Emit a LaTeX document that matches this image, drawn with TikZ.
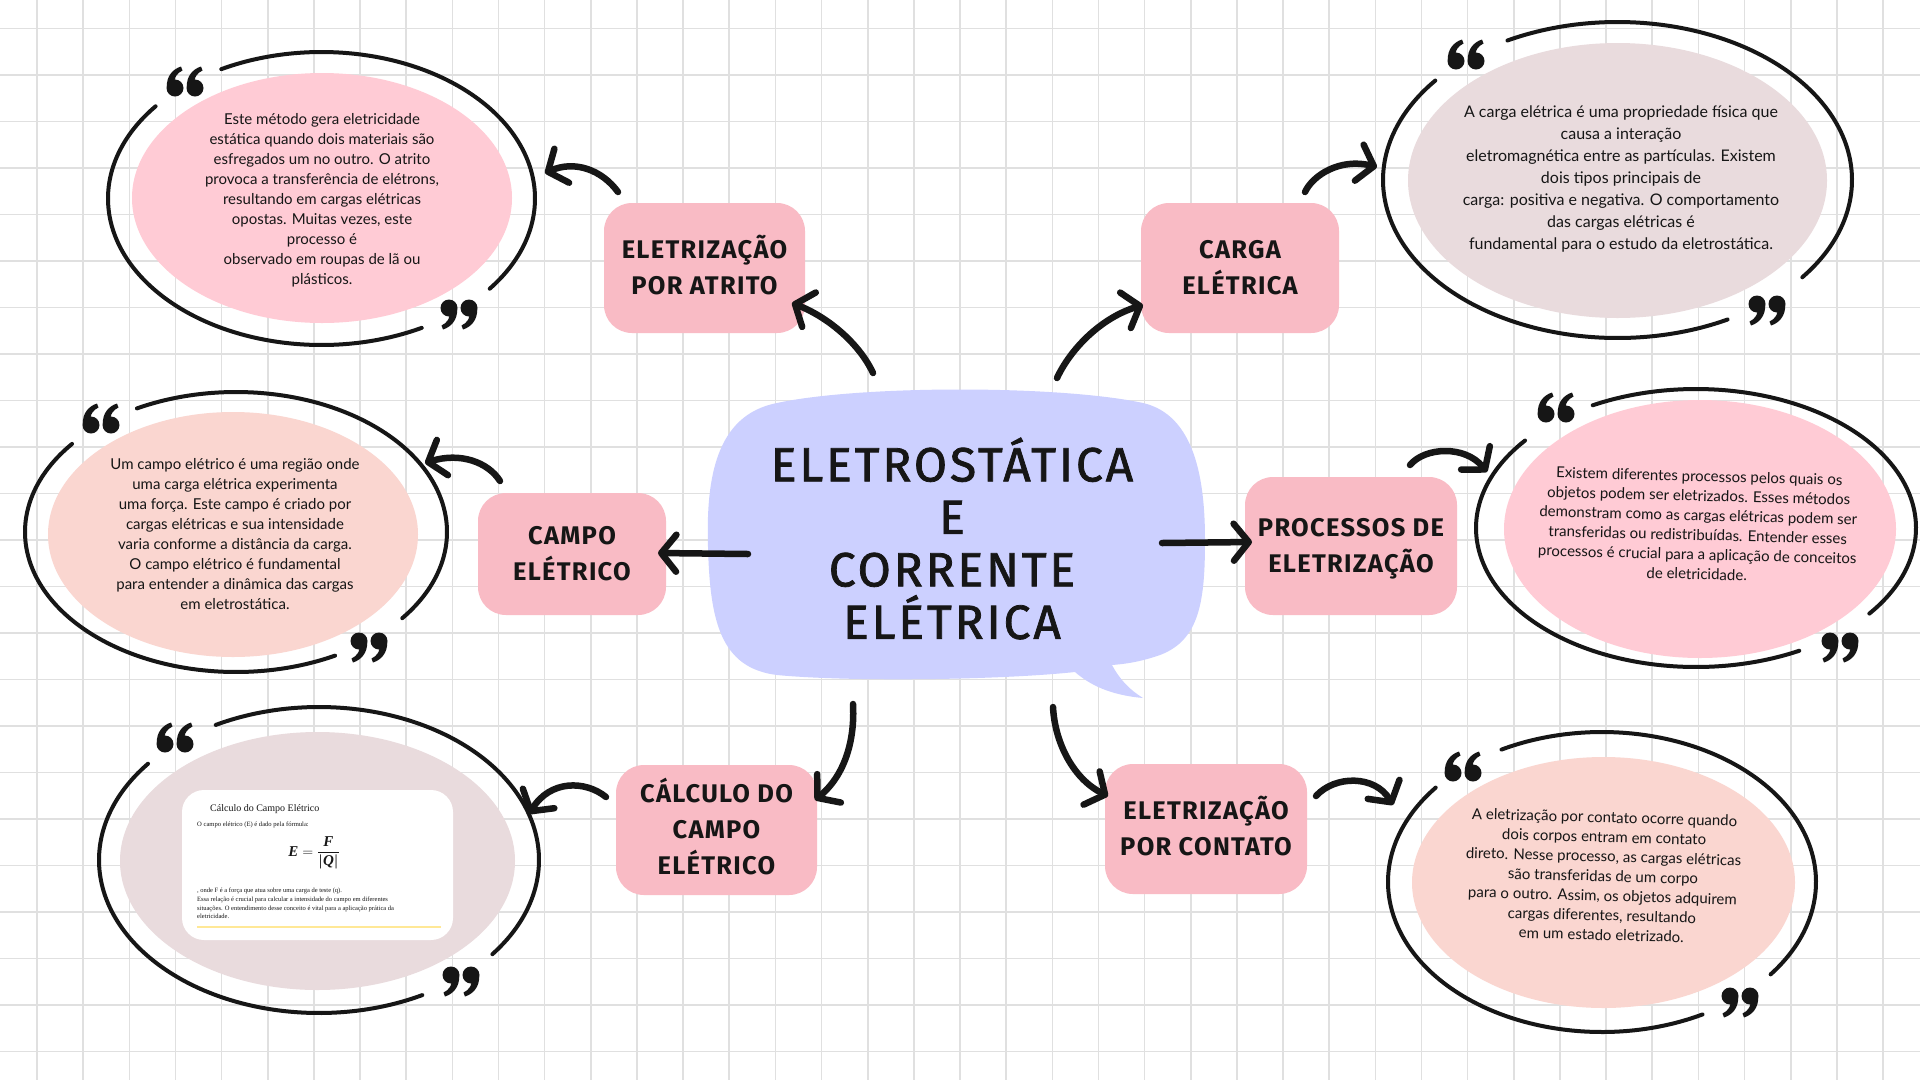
\documentclass[tikz,border=0pt]{standalone}
\usepackage{amsmath}
\usepackage{fontspec}
\usetikzlibrary{arrows.meta}
\setmainfont{Lato}
\newfontfamily\hand[LetterSpace=5]{Fira Sans}
\newfontfamily\handtitle[LetterSpace=6,FakeBold=1.6]{Fira Sans}
\newfontfamily\cardfont{Liberation Serif}
\definecolor{gridc}{RGB}{224,224,224}
\definecolor{bubble}{RGB}{204,208,255}
\definecolor{boxpink}{RGB}{249,187,197}
\definecolor{epink}{RGB}{255,203,213}
\definecolor{epeach}{RGB}{250,214,208}
\definecolor{emauve}{RGB}{233,219,221}
\definecolor{ink}{RGB}{22,22,22}
\definecolor{yline}{RGB}{255,232,150}
% struts: equal top/bottom so the caps are centred whatever the accents
\newcommand\bxtop{\rule{0pt}{26pt}}
\newcommand\bxbot{\rule[-8.8pt]{0pt}{8.8pt}}
\newcommand\tttop{\rule{0pt}{47pt}}
\newcommand\ttbot{\rule[-13.8pt]{0pt}{13.8pt}}
\newcommand\cardbi[1]{\text{\cardfont\bfseries\itshape #1}}
\newcommand\ringell[4]{%
  \draw[ringline] plot[domain=242:398,samples=70,smooth] ({#1+#3*cos(\x)},{#2+#4*sin(\x)});
  \draw[ringline] plot[domain=62:219,samples=70,smooth] ({#1+#3*cos(\x)},{#2+#4*sin(\x)});}
\tikzset{
  mapbox/.style={fill=boxpink, rounded corners=28pt, inner sep=0pt, align=center, text=ink,
     font=\hand\bfseries\fontsize{25.5}{36}\selectfont},
  bodytxt/.style={align=center, text=ink, inner sep=0pt, font=\fontsize{15}{20}\selectfont},
  ringline/.style={draw=ink, line width=4pt, line cap=round},
  conn/.style={draw=ink, line width=6.5pt, line cap=round,
     -{Straight Barb[length=15pt,width=37pt,line cap=round,line join=round]}},
  qsix/.pic={\fill[ink] (0,6) circle (8.5);
     \fill[ink] (-8.2,5) .. controls (-8.6,-6) and (-2,-13) .. (6,-15.5) -- (7.5,-11.5) .. controls (2,-9) and (-0.5,-4) .. (0,-2.5) -- cycle;},
  qnine/.pic={\fill[ink] (0,-6) circle (8.5);
     \fill[ink] (8.2,-5) .. controls (8.6,6) and (2,13) .. (-6,15.5) -- (-7.5,11.5) .. controls (-2,9) and (0.5,4) .. (0,2.5) -- cycle;},
  qopen/.pic={\pic at (-10,0) {qsix}; \pic at (10,0) {qsix};},
  qclose/.pic={\pic at (-10,0) {qnine}; \pic at (10,0) {qnine};}
}
\begin{document}
\begin{tikzpicture}[x=1pt,y=-1pt]
\useasboundingbox (0,0) rectangle (1920,1080);
\fill[white] (0,0) rectangle (1920,1080);
% grid
\foreach \i in {0,...,40} \draw[gridc,line width=1.6pt] ({37+46.15*\i},0) -- ({37+46.15*\i},1080);
\foreach \j in {0,...,22} \draw[gridc,line width=1.6pt] (0,{28.5+46.5*\j}) -- (1920,{28.5+46.5*\j});

% central speech bubble
\fill[bubble] (777,403) .. controls (860,385) and (1060,385) .. (1143,403)
  .. controls (1195,415) and (1205,480) .. (1205,540)
  .. controls (1205,600) and (1200,640) .. (1160,655)
  .. controls (1140,662) and (1125,664) .. (1112,665)
  .. controls (1120,680) and (1130,690) .. (1143,698)
  .. controls (1110,695) and (1090,685) .. (1075,672)
  .. controls (1000,680) and (850,682) .. (777,675)
  .. controls (720,668) and (710,620) .. (708,547)
  .. controls (706,480) and (715,415) .. (777,403) -- cycle;
\node[align=center, text=ink, inner sep=0pt, font=\handtitle\fontsize{48}{52.5}\selectfont] (title) at (952,543.5)
  {\tttop ELETROSTÁTICA\\E\\CORRENTE\\ELÉTRICA\ttbot};

% boxes
\node[mapbox, minimum width=201pt, minimum height=130pt] (b1) at (704.5,268) {\bxtop ELETRIZAÇÃO\\POR ATRITO\bxbot};
\node[mapbox, minimum width=198pt, minimum height=130pt] (b2) at (1240,268) {\bxtop CARGA\\ELÉTRICA\bxbot};
\node[mapbox, minimum width=188pt, minimum height=122pt] (b3) at (572,554) {\bxtop CAMPO\\ELÉTRICO\bxbot};
\node[mapbox, minimum width=212pt, minimum height=138pt] (b4) at (1351,546) {\bxtop PROCESSOS DE\\ELETRIZAÇÃO\bxbot};
\node[mapbox, minimum width=201pt, minimum height=130pt] (b5) at (716.5,830) {\bxtop CÁLCULO DO\\CAMPO\\ELÉTRICO\bxbot};
\node[mapbox, minimum width=202pt, minimum height=130pt] (b6) at (1206,829) {\bxtop ELETRIZAÇÃO\\POR CONTATO\bxbot};

% ellipses
\fill[epink] (322,198) ellipse [x radius=190, y radius=125];
\ringell{321.5}{198.5}{213.5}{146.5}
\fill[emauve] (1617.5,180.5) ellipse [x radius=209.5, y radius=137.5];
\ringell{1617.5}{180}{234.5}{158}
\fill[epeach] (233,534.5) ellipse [x radius=185, y radius=122.5];
\ringell{236}{532}{211}{140}
\fill[epink] (1700,529) ellipse [x radius=196, y radius=129];
\ringell{1696}{528}{220}{139}
\fill[emauve] (317.5,861) ellipse [x radius=197.5, y radius=129];
\ringell{319}{860}{220}{153}
\fill[epeach] (1603.5,882.5) ellipse [x radius=191.5, y radius=125.5];
\ringell{1602}{882}{214}{150}

% quote marks
\pic at (185,82) {qopen};   \pic at (459,314) {qclose};
\pic at (1466,55) {qopen};  \pic at (1767,310) {qclose};
\pic at (101,419) {qopen};  \pic at (369,647) {qclose};
\pic at (1556,408) {qopen}; \pic at (1840,647) {qclose};
\pic at (175,738) {qopen};  \pic at (461,981) {qclose};
\pic at (1463,767) {qopen}; \pic at (1740,1002) {qclose};

% ellipse texts
\node[bodytxt] (t1) at (322,200.5) {Este método gera eletricidade\\estática quando dois materiais são\\esfregados um no outro. O atrito\\provoca a transferência de elétrons,\\resultando em cargas elétricas\\opostas. Muitas vezes, este\\processo é\\observado em roupas de lã ou\\plásticos.};
\node[bodytxt, font=\fontsize{16}{21.9}\selectfont] (t2) at (1621,179) {A carga elétrica é uma propriedade física que\\causa a interação\\eletromagnética entre as partículas. Existem\\dois tipos principais de\\carga: positiva e negativa. O comportamento\\das cargas elétricas é\\fundamental para o estudo da eletrostática.};
\node[bodytxt] (t3) at (235,534) {Um campo elétrico é uma região onde\\uma carga elétrica experimenta\\uma força. Este campo é criado por\\cargas elétricas e sua intensidade\\varia conforme a distância da carga.\\O campo elétrico é fundamental\\para entender a dinâmica das cargas\\em eletrostática.};
\node[bodytxt, font=\fontsize{15}{19.6}\selectfont, rotate=-1.5] (t4) at (1698,525) {Existem diferentes processos pelos quais os\\objetos podem ser eletrizados. Esses métodos\\demonstram como as cargas elétricas podem ser\\transferidas ou redistribuídas. Entender esses\\processos é crucial para a aplicação de conceitos\\de eletricidade.};
\node[bodytxt, font=\fontsize{15}{19.6}\selectfont, rotate=-1.6] (t6) at (1603,876) {A eletrização por contato ocorre quando\\dois corpos entram em contato\\direto. Nesse processo, as cargas elétricas\\são transferidas de um corpo\\para o outro. Assim, os objetos adquirem\\cargas diferentes, resultando\\em um estado eletrizado.};

% formula card
\node[fill=white, rounded corners=22pt, minimum width=271pt, minimum height=150pt, inner sep=0pt] (card) at (317.5,865) {};
\node[anchor=base west, inner sep=0pt, text=ink, font=\cardfont\fontsize{10}{12}\selectfont] (ctitle) at (210,811) {Cálculo do Campo Elétrico};
\node[anchor=base west, inner sep=0pt, text=ink, font=\cardfont\fontsize{6.6}{8}\selectfont] (cline) at (197,826) {O campo elétrico (E) é dado pela fórmula:};
\node[inner sep=0pt, text=ink, font=\fontsize{15}{17}\selectfont] (cform) at (314,853) {$\cardbi{E}=\dfrac{\cardbi{F}}{\boldsymbol{|}\cardbi{Q}\boldsymbol{|}}$};
\node[anchor=north west, align=left, inner sep=0pt, text=ink, font=\cardfont\fontsize{6.5}{8.7}\selectfont] (cbody) at (197,888)
  {, onde F é a força que atua sobre uma carga de teste (q).\\Essa relação é crucial para calcular a intensidade do campo em diferentes\\situações. O entendimento desse conceito é vital para a aplicação prática da\\eletricidade.};
\coordinate (ylA) at (197,927);
\coordinate (ylB) at (441,927);
\draw[yline, line width=1.3pt] (ylA) -- (ylB);

% connector end points
\coordinate (s1) at (873,373);  \coordinate (e1) at (792,303);
\coordinate (s2) at (618,192);  \coordinate (e2) at (545,173);
\coordinate (s3) at (1057,378); \coordinate (e3) at (1143,305);
\coordinate (s4) at (1305,192); \coordinate (e4) at (1377,167);
\coordinate (s5) at (748,554);  \coordinate (e5) at (658,553);
\coordinate (s6) at (500,481);  \coordinate (e6) at (425,463);
\coordinate (s7) at (1162,543); \coordinate (e7) at (1252,542);
\coordinate (s8) at (1410,465); \coordinate (e8) at (1487,472);
\coordinate (s9) at (853,704);  \coordinate (e9) at (815,800);
\coordinate (s10) at (606,797); \coordinate (e10) at (529,814);
\coordinate (s11) at (1053,707);\coordinate (e11) at (1108,796);
\coordinate (s12) at (1316,796);\coordinate (e12) at (1393,805);

\draw[conn] (s1) .. controls (860,345) and (830,318) .. (e1);
\draw[conn] (s2) .. controls (602,170) and (575,160) .. (e2);
\draw[conn] (s3) .. controls (1070,350) and (1100,318) .. (e3);
\draw[conn] (s4) .. controls (1313,175) and (1340,158) .. (e4);
\draw[conn] (s5) -- (e5);
\draw[conn] (s6) .. controls (488,462) and (460,452) .. (e6);
\draw[conn] (s7) -- (e7);
\draw[conn] (s8) .. controls (1425,447) and (1465,445) .. (e8);
\draw[conn] (s9) .. controls (855,740) and (845,775) .. (e9);
\draw[conn] (s10) .. controls (585,780) and (550,780) .. (e10);
\draw[conn] (s11) .. controls (1055,745) and (1075,780) .. (e11);
\draw[conn] (s12) .. controls (1335,775) and (1375,775) .. (e12);
\end{tikzpicture}
\end{document}
